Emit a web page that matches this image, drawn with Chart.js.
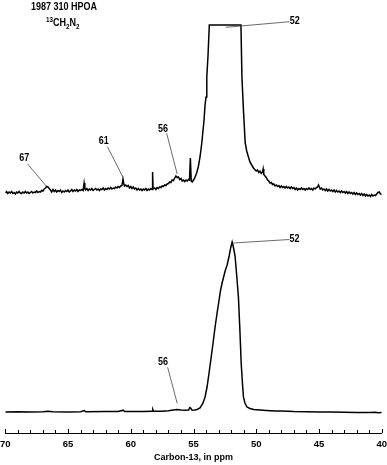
<!DOCTYPE html>
<html>
<head>
<meta charset="utf-8">
<script src="https://cdn.jsdelivr.net/npm/chart.js@4.4.1/dist/chart.umd.min.js"></script>
<style>
  body { margin: 0; background: #fff; }
  #wrap { width: 387px; height: 465px; }
</style>
</head>
<body>
<div id="wrap"><canvas id="mycanvas" width="387" height="465"></canvas></div>
<script>
// chemical shift (ppm) and signal height for the upper trace
var topShift = [
  70.0, 69.9, 69.8, 69.7, 69.6, 69.5, 69.4, 69.3, 69.2, 69.1,
  69.0, 68.9, 68.8, 68.7, 68.6, 68.5, 68.4, 68.3, 68.2, 68.1,
  68.0, 67.9, 67.8, 67.7, 67.6, 67.5, 67.4, 67.3, 67.2, 67.1,
  67.0, 66.9, 66.8, 66.7, 66.6, 66.5, 66.4, 66.3, 66.2, 66.1,
  66.0, 65.9, 65.8, 65.7, 65.6, 65.5, 65.4, 65.3, 65.2, 65.1,
  65.0, 64.9, 64.8, 64.7, 64.6, 64.5, 64.4, 64.3, 64.2, 64.1,
  64.0, 63.9, 63.8, 63.72, 63.66, 63.6, 63.5, 63.4, 63.3, 63.2,
  63.1, 63.0, 62.9, 62.8, 62.7, 62.6, 62.5, 62.4, 62.3, 62.2,
  62.1, 62.0, 61.9, 61.8, 61.7, 61.6, 61.5, 61.4, 61.3, 61.2,
  61.1, 61.0, 60.9, 60.8, 60.7, 60.62, 60.55, 60.5, 60.4, 60.3,
  60.2, 60.1, 60.0, 59.9, 59.8, 59.7, 59.6, 59.5, 59.4, 59.3,
  59.2, 59.1, 59.0, 58.9, 58.8, 58.7, 58.6, 58.5, 58.4, 58.3,
  58.26, 58.22, 58.1, 58.0, 57.9, 57.8, 57.7, 57.6, 57.5, 57.4,
  57.3, 57.2, 57.1, 57.0, 56.9, 56.8, 56.7, 56.6, 56.5, 56.4,
  56.3, 56.2, 56.1, 56.0, 55.9, 55.8, 55.7, 55.6, 55.5, 55.4,
  55.32, 55.25, 55.18, 55.1, 55.0, 54.9, 54.75, 54.62, 54.48, 54.34,
  54.16, 54.08, 54.0, 53.94, 53.84, 53.74, 51.22, 51.14, 51.02, 50.88,
  50.76, 50.62, 50.5, 50.36, 50.22, 50.08, 50.0, 49.9, 49.8, 49.7,
  49.6, 49.5, 49.45, 49.4, 49.3, 49.2, 49.1, 49.0, 48.9, 48.8,
  48.7, 48.6, 48.5, 48.4, 48.3, 48.2, 48.1, 48.0, 47.9, 47.8,
  47.7, 47.6, 47.5, 47.4, 47.3, 47.2, 47.1, 47.0, 46.9, 46.8,
  46.7, 46.6, 46.5, 46.4, 46.3, 46.2, 46.1, 46.0, 45.9, 45.8,
  45.7, 45.6, 45.5, 45.4, 45.3, 45.2, 45.1, 45.04, 44.95, 44.9,
  44.8, 44.7, 44.6, 44.5, 44.4, 44.3, 44.2, 44.1, 44.0, 43.9,
  43.8, 43.7, 43.6, 43.5, 43.4, 43.3, 43.2, 43.1, 43.0, 42.9,
  42.8, 42.7, 42.6, 42.5, 42.4, 42.3, 42.2, 42.1, 42.0, 41.9,
  41.8, 41.7, 41.6, 41.5, 41.4, 41.3, 41.2, 41.1, 41.0, 40.9,
  40.8, 40.7, 40.6, 40.5, 40.4, 40.3, 40.2, 40.1, 40.0];
var topSignal = [
  2, 3.5, 1.5, 3, 2, 3.5, 1.5, 2.5, 1, 3,
  2, 3.5, 2, 1.5, 3, 2, 3.5, 2, 3, 1.5,
  2.5, 3.5, 2, 3, 2.5, 4, 2.5, 3.5, 3, 4.5,
  4, 6, 7, 8.5, 8, 6.5, 5, 3, 5.5, 3.5,
  5, 3, 4.5, 3.5, 5, 2.5, 4, 3, 4.5, 3.5,
  5, 3, 4, 5.5, 3.5, 5, 4, 5.5, 3.5, 5,
  4.5, 5.5, 4.5, 12, 6, 5, 6.5, 4.5, 6, 5,
  6.5, 4.5, 5.5, 6.5, 5, 6, 4.5, 6, 5.5, 7,
  5, 6.5, 5.5, 7, 6, 7.5, 6, 7, 6.5, 8,
  7, 8.5, 7.5, 9, 9.5, 16, 11, 9, 10, 8.5,
  9.5, 7, 8.5, 6.5, 8, 6, 7, 5, 6.5, 5,
  6, 4.5, 6, 5, 6.5, 4.5, 6, 5, 6.5, 5.5,
  23, 6, 7, 5.5, 7.5, 6.5, 8, 7.5, 9, 8.5,
  10, 9.5, 11, 11.5, 13, 12.5, 15, 14.5, 17, 19,
  17.5, 18, 15.5, 16.5, 14, 15, 13.5, 15, 14, 15.5,
  15, 37, 14, 13, 15, 17, 22, 28, 38, 52,
  75, 90, 98, 118, 140, 170, 170, 118, 85, 52,
  44, 38, 33, 30, 27, 25, 24, 25, 22.5, 24,
  21.5, 23, 26, 20.5, 19, 17.5, 15, 14, 12, 12.5,
  10.5, 11, 9, 10, 8.5, 9.5, 7.5, 9, 7.5, 8.5,
  7, 8.5, 7, 8, 6.5, 8, 6.5, 7.5, 5.5, 7,
  5, 6.5, 5.5, 7, 5.5, 6.5, 5, 6.5, 5.5, 7,
  5.5, 6.5, 5, 7, 6, 7.5, 8, 10, 7.5, 6,
  7, 5, 6, 4.5, 6, 4, 5.5, 4, 5, 3.5,
  5, 3, 4.5, 3, 4, 2.5, 4, 2.5, 3.5, 2,
  3.5, 1.5, 3, 1.5, 2.5, 1, 2.5, 0.5, 2, 0.5,
  1.5, 0, 1.5, -0.5, 1, -1, 0.5, -1, 0, -1.5,
  0.5, -1, 0, -0.5, 1, 2.5, 3, 1, 0.5];

// lower trace
var bottomShift = [70.0, 69.0, 68.0, 67.0, 66.6, 66.2, 65.0, 64.0, 63.7, 63.6, 62.0, 61.0, 60.6, 60.5,
  59.0, 58.3, 58.24, 58.18, 57.5, 57.0, 56.6, 56.3, 56.0, 55.7, 55.38, 55.3, 55.22, 55.12, 54.9, 54.72,
  54.48, 54.24, 54.08, 53.92, 53.76, 53.6, 53.44, 53.28, 53.12, 52.96, 52.84, 52.72, 52.6, 52.48, 52.32,
  52.16, 52.04, 51.92, 51.84, 51.76, 51.68, 51.56, 51.42, 51.3, 51.2, 51.1, 51.02, 50.9, 50.74, 50.5,
  50.2, 49.7, 49.2, 48.5, 48.0, 47.0, 46.0, 45.0, 44.0, 43.0, 42.0, 41.0, 40.5, 40.3, 40.0];
var bottomSignal = [1, 1.2, 1, 1.3, 1.8, 1.2, 1, 1.3, 2.5, 1.2, 1.4, 1.5, 2.8, 1.6,
  1.6, 1.7, 3.5, 1.7, 1.8, 2.2, 3, 3.5, 3, 2.8, 3, 5.5, 5, 2.8, 3, 3.5,
  5, 10, 16, 26, 40, 55, 70, 86, 100, 113, 123, 130, 136, 142, 148,
  157, 165, 171, 167, 162, 156, 138, 116, 82, 50, 30, 16, 10, 6, 4.5,
  3.5, 3, 2.6, 2, 2, 1.4, 1.2, 1, 1.1, 0.8, 0.6, 0.4, 0.8, 0.3, 0.5];

var topOffset = 238;
var bottomOffset = 20;

var xTicks = [70, 65, 60, 55, 50, 45, 40];

// peak labels: text, label anchor and leader line ends (ppm, height)
var peakText   = ['52', '52', '56', '56', '61', '67'];
var peakAt     = [[46.94, 411.8], [46.96, 194], [57.44, 304], [57.44, 70.8], [62.16, 292], [68.48, 274.7]];
var leaderFrom = [[47.34, 411.3], [47.36, 193.5], [57.14, 299.7], [57.06, 65.7], [61.86, 286.3], [68.22, 269]];
var leaderTo   = [[52.42, 405.7], [51.84, 190], [56.30, 259], [56.30, 29.7], [60.62, 255.7], [66.74, 247]];

var font = "'Liberation Sans', Arial, sans-serif";

function toPoints(xs, ys, off) {
  var pts = [];
  for (var i = 0; i < xs.length; i++) {
    pts.push({x: xs[i], y: ys[i] + off});
  }
  return pts;
}

// narrow text, the original uses a condensed face
function narrowText(ctx, t, x, y) {
  ctx.save();
  ctx.translate(x, y);
  ctx.scale(0.9, 1);
  ctx.fillText(t, 0, 0);
  ctx.restore();
  return ctx.measureText(t).width * 0.9;
}

var extras = {
  id: 'extras',
  afterDraw: function(chart) {
    var ctx = chart.ctx;
    var xs = chart.scales.x, ys = chart.scales.y;
    var area = chart.chartArea;
    ctx.save();
    // tick marks pointing up
    ctx.strokeStyle = '#000';
    ctx.lineWidth = 1;
    for (var v = 40; v <= 70; v++) {
      var px = Math.round(xs.getPixelForValue(v)) + 0.5;
      var len = (v % 5 === 0) ? 4 : 3;
      ctx.beginPath();
      ctx.moveTo(px, area.bottom);
      ctx.lineTo(px, area.bottom - len);
      ctx.stroke();
    }
    // leaders and labels
    ctx.strokeStyle = '#444';
    ctx.lineWidth = 0.8;
    ctx.fillStyle = '#000';
    ctx.font = 'bold 10px ' + font;
    ctx.textAlign = 'center';
    ctx.textBaseline = 'middle';
    for (var i = 0; i < peakText.length; i++) {
      ctx.beginPath();
      ctx.moveTo(xs.getPixelForValue(leaderFrom[i][0]), ys.getPixelForValue(leaderFrom[i][1]));
      ctx.lineTo(xs.getPixelForValue(leaderTo[i][0]), ys.getPixelForValue(leaderTo[i][1]));
      ctx.stroke();
      narrowText(ctx, peakText[i], xs.getPixelForValue(peakAt[i][0]), ys.getPixelForValue(peakAt[i][1]));
    }
    // sample name and reagent
    ctx.textAlign = 'left';
    ctx.textBaseline = 'alphabetic';
    ctx.font = 'bold 10px ' + font;
    narrowText(ctx, '1987 310 HPOA', 31, 10);
    var x0 = 46;
    ctx.font = 'bold 7px ' + font;
    x0 += narrowText(ctx, '13', x0, 22);
    ctx.font = 'bold 10px ' + font;
    x0 += narrowText(ctx, 'CH', x0, 26);
    ctx.font = 'bold 7px ' + font;
    x0 += narrowText(ctx, '2', x0, 28.5);
    ctx.font = 'bold 10px ' + font;
    x0 += narrowText(ctx, 'N', x0, 26);
    ctx.font = 'bold 7px ' + font;
    narrowText(ctx, '2', x0, 28.5);
    ctx.restore();
  }
};

var ctx = document.getElementById('mycanvas');
var chart = new Chart(ctx, {
  type: 'line',
  data: {
    datasets: [
      {
        data: toPoints(topShift, topSignal, topOffset),
        borderColor: '#000',
        borderWidth: 1.5,
        pointRadius: 0,
        tension: 0,
        fill: false
      },
      {
        data: toPoints(bottomShift, bottomSignal, bottomOffset),
        borderColor: '#000',
        borderWidth: 1.5,
        pointRadius: 0,
        tension: 0,
        fill: false
      }
    ]
  },
  options: {
    responsive: false,
    animation: false,
    layout: { padding: { left: 0.5, right: 0.5, top: 0, bottom: 0 } },
    plugins: { legend: { display: false }, tooltip: { enabled: false } },
    scales: {
      x: {
        type: 'linear',
        reverse: true,
        min: 40,
        max: 70,
        afterBuildTicks: function(axis) {
          axis.ticks = xTicks.map(function(v) { return {value: v}; });
        },
        afterFit: function(scale) { scale.height = 32; },
        grid: { display: false, drawTicks: true, tickLength: 6 },
        border: { display: true, color: '#000', width: 1 },
        ticks: {
          color: '#000',
          padding: 0,
          maxRotation: 0,
          font: { family: font, size: 9.5, weight: 'bold' }
        },
        title: {
          display: true,
          text: 'Carbon-13, in ppm',
          color: '#000',
          padding: { top: 0, bottom: 2.5 },
          font: { family: font, size: 9, weight: 'bold' }
        }
      },
      y: {
        display: false,
        min: 0,
        max: 433
      }
    }
  },
  plugins: [extras]
});
</script>
</body>
</html>
